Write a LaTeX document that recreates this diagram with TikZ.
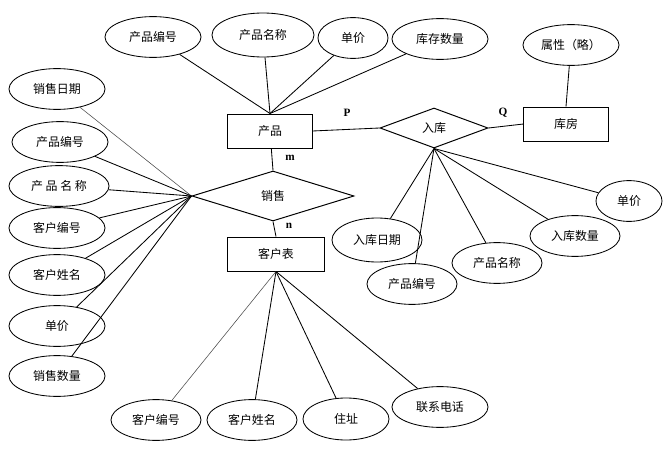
\documentclass[tikz,border=0pt]{standalone}
\usepackage{fontspec}
\setmainfont{Liberation Serif}
\newfontfamily\cjk{Noto Sans CJK SC}
\usepackage{tikz}
\usetikzlibrary{shapes.geometric}
\tikzset{
  txt/.style={font=\cjk\fontsize{8.5}{10}\selectfont},
  attr/.style={txt, ellipse, draw, line width=0.6pt, inner sep=0pt, minimum width=2.4cm, minimum height=1.02cm},
  ent/.style={txt, rectangle, draw, line width=0.7pt, inner sep=0pt, minimum width=2.1cm, minimum height=0.85cm},
  rel/.style={txt, diamond, draw, line width=0.7pt, inner sep=0pt},
  card/.style={font=\bfseries\fontsize{8}{9}\selectfont},
  link/.style={line width=0.6pt},
  thinlink/.style={line width=0.4pt, draw=black!70}
}

\begin{document}
\begin{tikzpicture}[x=0.025cm, y=-0.025cm]
\useasboundingbox (0,0) rectangle (667,454);

% entities and relations
\node[ent] (p) at (270,131) {产品};
\node[ent] (kf) at (566,124) {库房};
\node[ent, minimum width=2.4cm] (ck) at (276,254) {客户表};
\node[rel, minimum width=4.05cm, minimum height=1.25cm] (xs) at (273,196) {销售};
\node[rel, minimum width=2.7cm, minimum height=1.0cm] (rk) at (434,128) {入库};

% attributes of the product
\node[attr] (pno) at (153,37) {产品编号};
\node[attr, minimum width=2.55cm, minimum height=1.1cm] (pname) at (263,35) {产品名称};
\node[attr, minimum width=1.75cm] (pprice) at (353,38) {单价};
\node[attr] (stock) at (440,39) {库存数量};
\node[attr] (kfattr) at (571,45) {属性（略）};
\foreach \a in {pno,pname,pprice,stock}
  \draw[link] (\a) -- (p.north);
\draw[link] (kfattr) -- (kf.north);

% attributes of the sale
\node[attr] (sdate) at (57,89) {销售日期};
\node[attr] (spno) at (60,142) {产品编号};
\node[attr, minimum width=2.5cm] (spname) at (59,186) {产 品 名 称};
\node[attr] (scno) at (57,228) {客户编号};
\node[attr] (scname) at (57,275) {客户姓名};
\node[attr] (sprice) at (57,326) {单价};
\node[attr] (snum) at (57,376) {销售数量};
\draw[thinlink] (sdate) -- (xs.west);
\foreach \a in {spno,spname,scno,scname,sprice,snum}
  \draw[link] (\a) -- (xs.west);

% attributes of the customer
\node[attr, minimum width=2.25cm] (cno) at (156,420) {客户编号};
\node[attr, minimum width=2.25cm] (cname) at (252,420) {客户姓名};
\node[attr, minimum width=2.15cm, minimum height=1.05cm] (caddr) at (346,419) {住址};
\node[attr] (ctel) at (440,407) {联系电话};
\draw[thinlink] (cno) -- (ck.south);
\foreach \a in {cname,caddr,ctel}
  \draw[link] (\a) -- (ck.south);

% attributes of the stock entry
\node[attr, minimum width=2.25cm, minimum height=1.1cm] (rdate) at (377,240) {入库日期};
\node[attr, minimum width=2.25cm] (rpno) at (412,284) {产品编号};
\node[attr, minimum width=2.25cm] (rpname) at (497,263) {产品名称};
\node[attr, minimum width=2.25cm] (rnum) at (575,236) {入库数量};
\node[attr, minimum width=1.65cm] (rprice) at (629,201) {单价};
\foreach \a in {rdate,rpno,rpname,rnum,rprice}
  \draw[link] (\a) -- (rk.south);

% relation links
\draw[link] (p) -- (xs.north);
\draw[link] (xs.south) -- (ck.north);
\draw[link] (p.east) -- (rk.west);
\draw[link] (rk.east) -- (kf.west);
\node[card] (m) at (290,158) {m};
\node[card] (n) at (289,226) {n};
\node[card] (cp) at (347,113) {P};
\node[card] (cq) at (503,113) {Q};
\end{tikzpicture}
\end{document}
